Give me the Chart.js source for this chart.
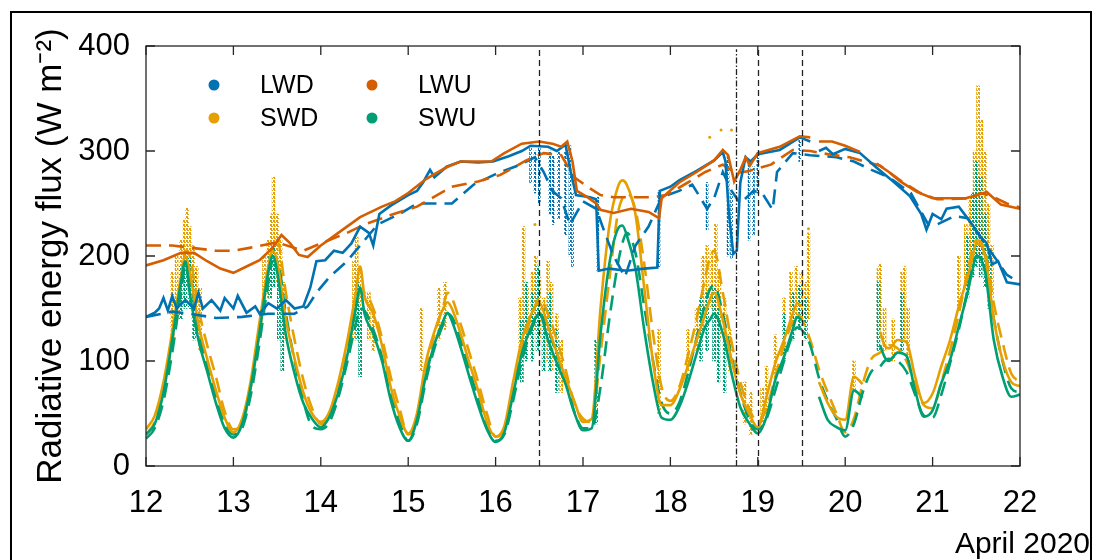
<!DOCTYPE html>
<html>
<head>
<meta charset="utf-8">
<script src="https://cdn.jsdelivr.net/npm/chart.js@4.4.1/dist/chart.umd.min.js"></script>
<style>
  html, body { margin: 0; padding: 0; background: #fff; overflow: hidden; }
  #wrap { position: relative; width: 1101px; height: 560px; }
  #frame { position: absolute; left: 10px; top: 11px; width: 1082px; height: 600px;
           border: 2px solid #000; box-sizing: border-box; pointer-events: none; }
  canvas { position: absolute; left: 0; top: 0; }
</style>
</head>
<body>
<div id="wrap">
  <canvas id="fluxChart" width="1101" height="560"></canvas>
  <div id="frame"></div>
</div>
<script>
// time axis for the shortwave curves (day of April 2020)
const swTimes = [
  12.0, 12.1, 12.2, 12.3, 12.4, 12.45, 12.5, 12.6, 12.7, 12.8, 12.9,
  13.0, 13.1, 13.2, 13.3, 13.4, 13.45, 13.5, 13.6, 13.7, 13.8, 13.9,
  14.0, 14.1, 14.2, 14.3, 14.4, 14.45, 14.5, 14.6, 14.7, 14.8, 14.9,
  15.0, 15.1, 15.2, 15.3, 15.4, 15.45, 15.5, 15.6, 15.7, 15.8, 15.9,
  16.0, 16.1, 16.2, 16.3, 16.4, 16.45, 16.5, 16.6, 16.7, 16.8, 16.9,
  17.0, 17.1, 17.2, 17.3, 17.4, 17.45, 17.5, 17.6, 17.7, 17.8, 17.9,
  18.0, 18.1, 18.2, 18.3, 18.4, 18.45, 18.5, 18.6, 18.7, 18.8, 18.9,
  19.0, 19.1, 19.2, 19.3, 19.4, 19.45, 19.5, 19.6, 19.7, 19.8, 19.9,
  20.0, 20.1, 20.2, 20.3, 20.4, 20.45, 20.5, 20.6, 20.7, 20.8, 20.9,
  21.0, 21.1, 21.2, 21.3, 21.4, 21.45, 21.5, 21.6, 21.7, 21.8, 21.9,
  22.0
];

// SWD measured (solid) and modelled (dashed)
const swdSolid = [
  35, 48, 80, 128, 180, 200, 185, 135, 102, 72, 46,
  32, 45, 82, 138, 190, 205, 195, 140, 102, 70, 50,
  42, 52, 80, 118, 165, 190, 162, 145, 115, 75, 48,
  31, 50, 98, 128, 150, 156, 150, 126, 98, 72, 42,
  28, 38, 80, 120, 143, 152, 155, 133, 108, 84, 62,
  42, 45, 150, 228, 266, 272, 268, 240, 170, 100, 58,
  58, 72, 95, 120, 145, 158, 165, 139, 101, 69, 50,
  37, 66, 98, 120, 145, 155, 152, null, 80, 60, 47,
  44, 85, 78, null, 128, 115, 112, 120, 118, 85, 60,
  69, 95, 120, 152, 180, 196, 212, 200, 140, 101, 80,
  76
];
const swdDash = [
  30, 42, 72, 118, 175, 205, 200, 150, 115, 85, 52,
  35, 40, 75, 128, 185, 210, 215, 165, 120, 82, 55,
  40, 48, 75, 112, 150, 165, 165, 150, 122, 85, 55,
  30, 45, 90, 125, 152, 165, 160, 135, 108, 80, 50,
  28, 35, 72, 112, 140, 152, 160, 145, 120, 92, 60,
  45, 42, 107, 177, 241, 255, 260, 244, 193, 127, 75,
  62, 75, 105, 140, 180, 198, 205, 165, 118, 80, 55,
  42, 55, 85, 115, 138, 145, 140, 120, 92, 70, 50,
  32, 45, 78, 102, 108, 112, 115, 112, 100, 78, 58,
  55, 80, 110, 145, 185, 205, 215, 205, 155, 118, 88,
  80
];

// SWU measured (solid) and modelled (dashed)
const swuSolid = [
  30, 40, 70, 120, 175, 195, 165, 120, 90, 60, 36,
  27, 40, 76, 128, 185, 200, 185, 125, 88, 60, 45,
  37, 47, 70, 104, 150, 170, 145, 126, 100, 63, 37,
  24, 44, 85, 116, 138, 146, 138, 113, 85, 58, 35,
  23, 32, 68, 107, 131, 140, 145, 120, 98, 78, 51,
  34, 36, 125, 192, 226, 229, 220, 188, 130, 80, 46,
  44, 56, 79, 107, 133, 139, 145, 126, 88, 56, 41,
  31, 47, 82, 104, 130, 142, 139, null, 66, 44, 37,
  34, 72, 65, null, 115, 104, 100, 108, 105, 72, 47,
  53, 79, 101, 133, 165, 184, 200, 185, 120, 85, 66,
  68
];
const swuDash = [
  26, 36, 62, 108, 165, 190, 180, 130, 95, 65, 40,
  30, 36, 68, 118, 175, 195, 195, 145, 100, 62, 38,
  35, 42, 65, 98, 135, 150, 148, 130, 104, 70, 42,
  24, 40, 80, 112, 135, 145, 142, 120, 92, 64, 38,
  24, 30, 62, 100, 128, 138, 145, 130, 106, 82, 52,
  36, 36, 75, 139, 193, 212, 222, 203, 152, 101, 60,
  50, 60, 88, 122, 155, 168, 172, 145, 104, 70, 45,
  35, 45, 72, 100, 125, 132, 130, 115, 84, 62, 45,
  28, 40, 70, 90, 95, 100, 102, 100, 90, 68, 48,
  46, 68, 98, 130, 168, 188, 200, 190, 140, 100, 74,
  70
];

// LWU measured (solid) and modelled (dashed)
const lwuSolidT = [12.0, 12.2, 12.4, 12.55, 12.7, 12.85, 13.0, 13.15, 13.3, 13.45, 13.55, 13.65, 13.75, 13.85,
  14.0, 14.2, 14.45, 14.7, 14.85, 15.0, 15.2, 15.3, 15.45, 15.6, 15.8, 15.95, 16.1, 16.3, 16.5, 16.65, 16.75,
  16.82, 16.88, 16.93, 17.05, 17.15, 17.2, 17.35, 17.55, 17.75, 17.87, 17.9, 18.1, 18.3, 18.5, 18.6, 18.66,
  18.73, 18.8, 18.86, 18.91, 19.0, 19.25, 19.48, 19.6, 19.65, 19.7, 19.85, 20.0, 20.17, 20.25, 20.36, 20.5,
  20.63, 20.82, 21.0, 21.2, 21.38, 21.55, 21.62, 21.7, 21.78, 22.0];
const lwuSolid = [191, 196, 203, 203, 195, 188, 184, 190, 196, 208, 220, 212, 201, 199,
  210, 222, 237, 247, 252, 260, 273, 278, 285, 290, 290, 290, 298, 307, 309, 307, 304,
  309, 290, 262, 256, 250, 244, 241, 245, 242, 236, 255, 270, 280, 291, 301, 296,
  271, 282, 294, 286, 298, 304, 314, 313, null, 309, 309, 305, 299, null, 288, 280,
  271, 261, 255, 255, 255, 259, 261, 255, 249, 245];
const lwuDashT = [12.0, 12.3, 12.5, 12.8, 13.0, 13.2, 13.5, 13.8, 14.0, 14.3, 14.5, 14.8, 15.1, 15.5, 15.8,
  16.05, 16.35, 16.55, 16.75, 16.9, 17.05, 17.2, 17.35, 17.8, 17.95, 18.2, 18.4, 18.6, 18.75, 18.9, 19.15,
  19.4, 19.6, 19.8, 20.05, 20.4, 20.63, 20.86, 21.05, 21.45, 21.55, 21.7, 21.85, 22.0];
const lwuDash = [210, 210, 208, 205, 205, 208, 213, 205, 212, 222, 230, 239, 247, 266, 271,
  277, 291, 298, 296, 275, 266, 258, 256, 256, 258, 270, 280, 287, 279, 281, 287,
  301, 300, 297, 294, 286, 272, 260, 254, 255, 260, 256, 250, 246];

// LWD measured (solid) and modelled (dashed)
const lwdSolidT = [12.0, 12.1, 12.15, 12.2, 12.25, 12.3, 12.35, 12.45, 12.55, 12.6,
  12.65, 12.75, 12.85, 12.9, 13.0, 13.05, 13.15, 13.25, 13.3, 13.4,
  13.5, 13.6, 13.7, 13.8, 13.88, 13.95, 14.05, 14.15, 14.25, 14.35,
  14.45, 14.55, 14.6, 14.67, 14.8, 14.9, 15.0, 15.1, 15.17, 15.25,
  15.3, 15.44, 15.6, 15.8, 15.97, 16.15, 16.3, 16.4, 16.6, 16.7,
  16.8, 16.86, 16.92, 17.08, 17.15, 17.18, 17.3, 17.5, 17.7, 17.85,
  17.88, 18.0, 18.1, 18.3, 18.5, 18.6, 18.63, 18.67, 18.72, 18.76,
  18.8, 18.86, 18.92, 19.0, 19.25, 19.48, 19.6, 19.65, 19.7, 19.78,
  19.86, 20.0, 20.17, 20.36, 20.55, 20.74, 20.87, 20.93, 21.0, 21.1,
  21.16, 21.3, 21.39, 21.47, 21.55, 21.62, 21.68, 21.75, 21.8, 21.85,
  22.0];
const lwdSolid = [142, 146, 150, 160, 148, 162, 150, 158, 150, 165,
  150, 158, 148, 160, 150, 162, 146, 152, 145, 155,
  150, 158, 150, 152, 170, 195, 196, 205, 203, 212,
  228, 222, 210, 240, 248, 253, 258, 262, 270, 282,
  275, 285, 290, 289, 290, 295, 300, 305, 304, 300,
  306, 280, 258, 256, 254, 186, 188, 186, 188, 189,
  262, 266, 272, 281, 291, 299, 290, 240, 202, 205,
  270, 294, 290, 297, 301, 313, 309, null, 300, 303,
  297, 302, 298, 284, 271, 257, 240, 225, 240, 235,
  245, 247, 237, 228, 218, 212, 192, 195, 185, 175,
  173];
const lwdDashT = [12.0, 12.3, 12.5, 12.8, 13.1, 13.4, 13.7, 13.85, 13.95, 14.1,
  14.3, 14.5, 14.65, 14.9, 15.1, 15.3, 15.5, 15.75, 16.0, 16.25,
  16.45, 16.55, 16.65, 16.75, 16.85, 17.0, 17.15, 17.25, 17.35, 17.48,
  17.6, 17.75, 17.9, 18.1, 18.25, 18.42, 18.5, 18.6, 18.7, 18.8,
  18.95, 19.05, 19.17, 19.22, 19.4, 19.6, 19.9, 20.1, 20.3, 20.5,
  20.75, 20.95, 21.05, 21.25, 21.4, 21.55, 21.7, 21.85, 21.95];
const lwdDash = [142, 147, 145, 141, 142, 145, 145, 152, 165, 180,
  195, 215, 230, 240, 250, 250, 250, 268, 278, 286,
  294, 280, 262, 255, 230, 252, 245, 222, 200, 180,
  210, 228, 256, 262, 268, 245, 255, 280, 262, 250,
  262, 260, 244, 280, 298, 296, 294, 290, 282, 275,
  260, 230, 230, 238, 236, 218, 200, 182, 177];

// scattered raw samples: [day, lowest, highest]
const swdSpikes = [
  [12.3, 120, 185], [12.35, 140, 200], [12.4, 150, 215], [12.44, 160, 235], [12.47, 170, 246], [12.5, 160, 228],
  [12.54, 140, 210], [12.58, 130, 190], [12.62, 110, 170],
  [13.35, 150, 200], [13.4, 160, 215], [13.44, 170, 240], [13.46, 180, 275], [13.5, 175, 240], [13.54, 150, 215], [13.58, 120, 175],
  [14.38, 120, 195], [14.41, 140, 218], [14.44, 120, 190], [14.55, 120, 165], [14.6, 110, 150],
  [15.15, 90, 150], [15.35, 120, 170], [15.42, 130, 175],
  [16.28, 90, 160], [16.32, 110, 228], [16.36, 120, 170], [16.42, 110, 185], [16.46, 130, 200], [16.5, 120, 180],
  [16.55, 100, 160], [16.6, 100, 195], [16.64, 90, 175], [16.7, 80, 145], [16.75, 70, 120],
  [17.87, 50, 130],
  [18.2, 90, 130], [18.3, 110, 150], [18.37, 130, 200], [18.42, 140, 210], [18.47, 150, 205], [18.52, 140, 230],
  [18.56, 120, 185], [18.62, 110, 160], [18.68, 90, 130],
  [18.85, 40, 80], [18.92, 30, 70], [19.05, 40, 75], [19.1, 50, 95],
  [19.2, 80, 125], [19.3, 110, 160], [19.38, 130, 185], [19.44, 140, 190], [19.5, 140, 185], [19.55, 130, 175], [19.58, 140, 222],
  [20.1, 70, 100], [20.38, 120, 188], [20.4, 130, 192], [20.45, 110, 150], [20.55, 100, 140], [20.65, 120, 185],
  [20.68, 120, 190], [20.72, 100, 150],
  [21.3, 150, 200], [21.38, 170, 230], [21.43, 180, 255], [21.48, 200, 300], [21.52, 200, 362], [21.56, 200, 330],
  [21.6, 190, 300], [21.64, 180, 250], [21.68, 160, 210]
];
const swdStray = [[16.45, 230], [18.45, 313], [18.58, 320], [18.7, 320], [19.58, 226]];
const swuSpikes = [
  [12.4, 140, 190], [12.45, 150, 205], [12.5, 150, 200], [12.55, 120, 185],
  [13.42, 160, 200], [13.46, 170, 210], [13.52, 120, 180], [13.56, 90, 150],
  [14.42, 120, 175], [14.45, 85, 150],
  [16.3, 80, 140], [16.35, 100, 175], [16.42, 100, 165], [16.48, 110, 190], [16.55, 90, 150], [16.62, 90, 165], [16.7, 70, 130],
  [17.15, 40, 120],
  [18.35, 100, 160], [18.42, 110, 165], [18.5, 100, 170], [18.55, 80, 150], [18.62, 70, 120],
  [19.3, 100, 145], [19.4, 120, 165], [19.48, 130, 172], [19.55, 120, 160],
  [20.38, 110, 175], [20.65, 110, 165],
  [21.4, 160, 220], [21.46, 180, 260], [21.5, 190, 290], [21.55, 180, 275], [21.6, 170, 240], [21.65, 150, 200]
];
const lwdSpikes = [
  [16.4, 270, 305], [16.45, 260, 300], [16.5, 250, 305], [16.62, 240, 300], [16.66, 230, 295], [16.72, 235, 300],
  [16.8, 220, 300], [16.85, 200, 305], [16.88, 190, 260],
  [17.17, 186, 256], [17.87, 189, 262],
  [18.42, 225, 270], [18.66, 200, 295], [18.7, 198, 260], [18.9, 215, 290], [18.95, 220, 285], [19.0, 260, 298], [19.48, 290, 313],
  [21.55, 195, 225]
];

// vertical marker lines
const eventDays = [16.5, 18.75, 19.0, 19.5];

const legendNames = ['LWD', 'LWU', 'SWD', 'SWU'];
const xTickDays = [12, 13, 14, 15, 16, 17, 18, 19, 20, 21, 22];
const yTickValues = [0, 100, 200, 300, 400];

const BLUE = '#0072B2', RED = '#D55E00', YELLOW = '#E69F00', GREEN = '#009E73';
const legendColors = [BLUE, RED, YELLOW, GREEN];
const FONT = "'Liberation Sans', Arial, Helvetica, sans-serif";

const toPoints = (times, values) => times.map((t, i) => ({ x: t, y: values[i] }));

// small repeating tile so the raw-sample columns look dotted
const dotFill = (color) => {
  const tile = document.createElement('canvas');
  tile.width = 3; tile.height = 4;
  const t = tile.getContext('2d');
  t.fillStyle = color;
  t.fillRect(0, 0, 2, 2);
  t.fillRect(1, 2, 2, 1);
  return document.createElement('canvas').getContext('2d').createPattern(tile, 'repeat');
};

const lineSet = (label, times, values, color, dashed, order, smooth) => ({
  type: 'line',
  label,
  data: toPoints(times, values),
  borderColor: color,
  borderWidth: 2.6,
  borderDash: dashed ? [15, 8] : [],
  pointRadius: 0,
  fill: false,
  spanGaps: false,
  tension: 0,
  cubicInterpolationMode: smooth ? 'monotone' : 'default',
  order
});

const spikeSet = (label, spikes, color, width, order) => ({
  type: 'bar',
  label,
  data: spikes.map(s => ({ x: s[0], y: [s[1], s[2]] })),
  backgroundColor: dotFill(color),
  barThickness: width,
  grouped: false,
  order
});

const eventPlugin = {
  id: 'eventLines',
  afterDatasetsDraw(chart) {
    const { ctx, scales: { x, y } } = chart;
    ctx.save();
    ctx.strokeStyle = '#222';
    ctx.lineWidth = 1.3;
    eventDays.forEach(d => {
      const px = Math.round(x.getPixelForValue(d)) + 0.5;
      ctx.setLineDash(d === 18.75 ? [6, 2, 1.5, 2] : [6, 4]);
      ctx.beginPath();
      ctx.moveTo(px, y.getPixelForValue(0));
      ctx.lineTo(px, y.getPixelForValue(397));
      ctx.stroke();
    });
    ctx.restore();
  }
};

const boxPlugin = {
  id: 'axesBox',
  afterDraw(chart) {
    const { ctx, chartArea: a, scales: { x, y } } = chart;
    const tick = 9;
    ctx.save();
    ctx.strokeStyle = '#262626';
    ctx.lineWidth = 1.3;
    ctx.setLineDash([]);
    ctx.strokeRect(a.left, a.top, a.right - a.left, a.bottom - a.top);
    ctx.beginPath();
    xTickDays.forEach(d => {
      const px = x.getPixelForValue(d);
      ctx.moveTo(px, a.bottom); ctx.lineTo(px, a.bottom - tick);
      ctx.moveTo(px, a.top); ctx.lineTo(px, a.top + tick);
    });
    yTickValues.forEach(v => {
      const py = y.getPixelForValue(v);
      ctx.moveTo(a.left, py); ctx.lineTo(a.left + tick, py);
      ctx.moveTo(a.right, py); ctx.lineTo(a.right - tick, py);
    });
    ctx.stroke();

    // legend, two columns in the upper left corner
    ctx.font = '25px ' + FONT;
    ctx.textBaseline = 'middle';
    ctx.textAlign = 'left';
    legendNames.forEach((name, i) => {
      const cx = a.left + 68 + (i % 2) * 158;
      const cy = a.top + 39 + Math.floor(i / 2) * 33;
      ctx.fillStyle = legendColors[i];
      ctx.beginPath();
      ctx.arc(cx, cy, 5.5, 0, Math.PI * 2);
      ctx.fill();
      ctx.fillStyle = '#000';
      ctx.fillText(name, cx + 46, cy + 1);
    });

    // date note under the last tick
    ctx.font = '30px ' + FONT;
    ctx.textAlign = 'right';
    ctx.textBaseline = 'alphabetic';
    ctx.fillText('April 2020', a.right + 70, a.bottom + 87);
    ctx.restore();
  }
};

const ctx = document.getElementById('fluxChart').getContext('2d');
new Chart(ctx, {
  type: 'line',
  data: {
    datasets: [
      lineSet('LWU', lwuSolidT, lwuSolid, RED, false, 1, false),
      lineSet('LWD', lwdSolidT, lwdSolid, BLUE, false, 2, false),
      lineSet('LWU model', lwuDashT, lwuDash, RED, true, 3, false),
      lineSet('LWD model', lwdDashT, lwdDash, BLUE, true, 4, false),
      lineSet('SWU', swTimes, swuSolid, GREEN, false, 5, true),
      lineSet('SWD', swTimes, swdSolid, YELLOW, false, 6, true),
      lineSet('SWU model', swTimes, swuDash, GREEN, true, 7, true),
      lineSet('SWD model', swTimes, swdDash, YELLOW, true, 8, true),
      spikeSet('LWD raw', lwdSpikes, BLUE, 2, 9),
      spikeSet('SWU raw', swuSpikes, GREEN, 3, 10),
      spikeSet('SWD raw', swdSpikes, YELLOW, 3, 11),
      {
        type: 'scatter',
        label: 'SWD stray',
        data: swdStray.map(p => ({ x: p[0], y: p[1] })),
        pointRadius: 1.5,
        pointBackgroundColor: YELLOW,
        pointBorderWidth: 0,
        showLine: false,
        order: 12
      }
    ]
  },
  options: {
    responsive: false,
    animation: false,
    layout: { padding: { left: 0, right: 81, top: 46, bottom: 0 } },
    plugins: { legend: { display: false }, tooltip: { enabled: false } },
    scales: {
      x: {
        type: 'linear',
        min: 12, max: 22,
        offset: false,
        grid: { display: false },
        border: { display: false },
        ticks: { stepSize: 1, padding: 11, autoSkip: false, maxRotation: 0, color: '#000',
                 font: { family: FONT, size: 31 } },
        afterFit: s => { s.height = 94; }
      },
      y: {
        min: 0, max: 400,
        grid: { display: false },
        border: { display: false },
        ticks: { stepSize: 100, padding: 8, color: '#000', font: { family: FONT, size: 31 } },
        title: {
          display: true,
          text: 'Radiative energy flux (W m\u207B\u00B2)',
          color: '#000',
          font: { family: FONT, size: 35 },
          padding: { top: 30, bottom: 0 }
        },
        afterFit: s => { s.width = 146; }
      }
    }
  },
  plugins: [eventPlugin, boxPlugin]
});
</script>
</body>
</html>
